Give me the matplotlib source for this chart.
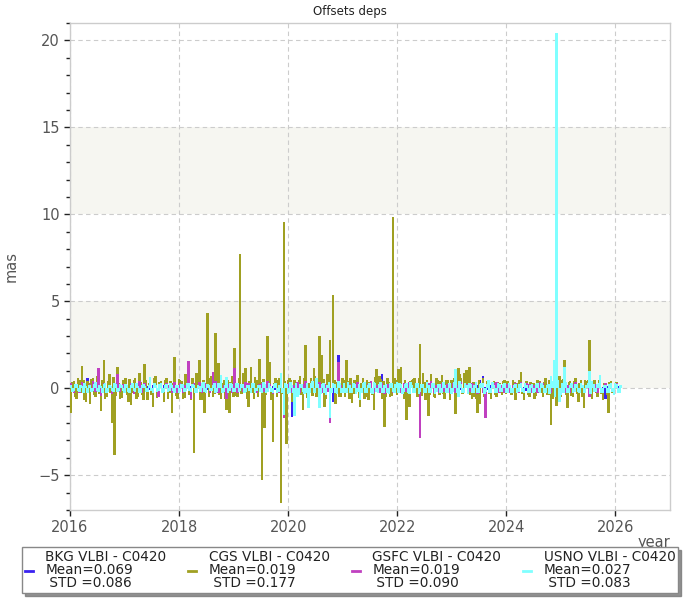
import numpy as np
import matplotlib
matplotlib.use("Agg")
import matplotlib.pyplot as plt
from matplotlib.lines import Line2D

# ---- data ---------------------------------------------------------------
years = [2016, 2017, 2018, 2019, 2020, 2021, 2022, 2023, 2024, 2025, 2026]
# session epochs within each year (fraction of year): main sessions ...
in_year = [0.02, 0.07, 0.12, 0.17, 0.22, 0.27, 0.32, 0.37, 0.42, 0.47,
           0.52, 0.57, 0.62, 0.67, 0.72, 0.77, 0.82, 0.87, 0.92, 0.97]
# ... and intensive/extra sessions analysed by CGS and USNO
in_year_b = [0.045, 0.095, 0.145, 0.195, 0.245, 0.295, 0.345, 0.395, 0.445, 0.495,
             0.545, 0.595, 0.645, 0.695, 0.745, 0.795, 0.845, 0.895, 0.945, 0.995]
last_year_sessions = 2

series_names = ["BKG VLBI - C0420", "CGS VLBI - C0420",
                "GSFC VLBI - C0420", "USNO VLBI - C0420"]
series_mean = ["0.069", "0.019", "0.019", "0.027"]
series_std = ["0.086", "0.177", "0.090", "0.083"]
series_colors = ["#3a22f0", "#a0a022", "#c040c0", "#80ffff"]

bkg = [
    0.15, -0.1, 0.2, 0.1, -0.15, 0.2, 0.6, -0.1, 0.15, 0.1, -0.2, 0.15, 0.1, -0.15, 0.2, 0.1, -0.1, 0.15, 0.2, -0.1,
    0.1, 0.15, -0.1, 0.2, 0.1, -0.15, 0.2, 0.1, 0.15, -0.1, 0.2, 0.1, -0.1, 0.15, 0.2, 0.1, -0.15, 0.1, 0.2, 0.15,
    0.15, 0.1, -0.1, 0.2, 0.15, 0.1, -0.15, 0.2, 0.1, 0.15, -0.1, 0.2, 0.1, 0.15, -0.1, 0.2, 0.15, 0.1, -0.15, 0.1,
    0.2, 0.1, 0.15, -0.1, 0.2, 0.1, 0.15, -0.1, 0.2, 0.15, 0.1, -0.15, 0.2, 0.1, 0.15, -0.1, 0.2, 0.1, -0.2, 0.15,
    0.1, -1.65, 0.15, 0.2, 0.1, -0.1, 0.15, 0.2, 0.1, -0.15, 0.2, 0.1, 0.15, -0.1, 0.2, 0.15, -0.8, 0.1, 1.9, 0.15,
    0.2, 0.1, -0.1, 0.15, 0.2, 0.1, 0.15, -0.1, 0.2, 0.1, 0.15, -0.15, 0.2, 0.1, 0.8, 0.15, 0.1, -0.1, 0.2, 0.15,
    0.1, 0.2, 0.15, -0.1, 0.2, 0.1, 0.15, -0.15, 0.2, 0.1, 0.15, -0.1, 0.8, 0.15, 0.1, -0.1, 0.2, 0.15, 0.1, -0.15,
    0.15, 0.2, 0.1, -0.1, 0.15, 0.2, 0.1, 0.15, -0.15, 0.2, 0.5, 0.7, 0.1, -0.1, 0.2, 0.15, 0.1, 0.2, -0.15, 0.1,
    0.2, 0.1, 0.15, -0.1, 0.2, 0.15, 0.1, -0.15, 0.2, 0.1, 0.15, -0.1, 0.2, 0.15, 0.1, -0.1, 0.2, 0.3, 0.15, -0.1,
    0.15, 0.2, 0.1, -0.15, 0.2, 0.1, 0.15, -0.1, 0.2, 0.15, 0.1, 0.2, -0.1, 0.15, 0.3, 0.1, -0.6, 0.15, 0.2, -0.1,
    0.2, 0.15,
]

cgs = [
    -1.45, 0.4, -0.6, 0.5, 1.3, -0.7, 0.4, -0.9, 0.6, -0.5, 0.9, -1.3, 1.65, -0.5, 0.8, -2.0, -3.85, 1.2, -0.6, 0.5,
    0.6, -0.8, -0.95, 0.5, -0.6, 0.9, -0.4, 1.4, -0.7, 0.5, -1.05, 0.7, -0.5, 0.4, -0.8, 0.6, -0.3, -1.45, 1.8, -0.6,
    0.5, -0.6, 0.8, 0.4, -0.7, -3.7, 0.9, 1.6, -0.7, -1.4, 4.3, 0.6, -0.5, 3.15, 1.45, -0.6, 0.5, -1.25, -1.45, 0.7,
    2.3, -0.5, 7.7, 0.85, 1.15, -1.1, 1.2, -0.6, 0.5, 1.7, -5.3, -2.3, 3.0, 1.5, -3.1, 0.6, 0.5, -6.6, 9.55, -3.2,
    0.6, -0.8, 0.5, -0.4, 0.7, -1.25, 2.5, -0.7, 0.6, 1.15, -0.5, 3.0, 1.9, -1.1, 0.8, 2.75, 5.35, -0.9, 0.6, -0.5,
    0.5, 1.65, -0.6, -0.85, 0.5, 0.75, -1.1, 0.6, -0.5, -0.7, 0.4, -1.25, 1.1, 0.7, -0.6, -2.2, 0.6, -0.5, 9.85, 0.5,
    1.1, 1.25, -0.6, -1.8, -1.1, 0.5, 0.6, -0.5, 2.55, 0.85, -0.7, -1.6, 0.8, -0.5, 0.6, -0.4, 0.75, -0.6, 0.5, -0.7,
    0.5, -1.5, 1.15, 0.6, 0.85, 1.05, 1.25, -0.6, -0.5, -1.45, -0.9, 0.6, -1.6, 0.5, -0.6, 0.4, -0.5, 0.3, -0.4, 0.5,
    0.4, -0.3, 0.5, -0.7, 0.3, 0.95, -0.65, 0.4, -0.5, 0.3, -0.6, 0.5, 0.4, -0.5, 0.6, -0.4, -2.1, 0.5, -1.0, 0.7,
    0.5, 1.65, -1.15, 0.4, -0.5, 0.6, -0.8, 0.5, -1.15, 0.4, 2.8, -0.6, 0.5, -0.5, 0.4, -0.65, 0.3, -1.45, 0.4, -0.3,
    0.35, -0.2,
]

cgs_b = [
    0.35, -0.5, 0.6, -0.3, 0.45, -0.8, 0.3, 0.55, -0.4, 0.7, -0.35, 0.5, -0.6, 0.4, -0.3, 0.65, -0.45, 0.3, -0.55, 0.4,
    -0.4, 0.55, -0.3, 0.6, -0.5, 0.35, -0.65, 0.45, 0.3, -0.4, 0.6, -0.55, 0.35, -0.3, 0.5, -0.6, 0.4, 0.3, -0.45, 0.55,
    0.4, -0.55, 0.35, -0.4, 0.6, -0.3, 0.5, -0.65, 0.45, 0.3, -0.5, 0.7, -0.35, 0.55, -0.4, 0.3, -0.6, 0.45, 0.35, -0.5,
    -0.45, 0.6, -0.35, 0.5, -0.6, 0.4, -0.3, 0.65, -0.5, 0.35, 0.55, -0.4, 0.45, -0.7, 0.3, -0.5, 0.6, -0.35, 0.4, 0.5,
    0.45, -0.6, 0.35, 0.5, -0.4, 0.6, -0.55, 0.3, -0.45, 0.7, 0.4, -0.35, 0.55, -0.6, 0.45, -0.3, 0.5, 0.35, -0.5, 0.6,
    -0.5, 0.4, 0.6, -0.35, 0.45, -0.55, 0.3, -0.6, 0.5, 0.35, -0.4, 0.65, -0.3, 0.55, 0.4, -0.5, 0.35, -0.45, 0.6, -0.4,
    0.5, -0.35, 0.45, -0.6, 0.4, 0.55, -0.3, 0.6, -0.45, 0.35, 0.5, -0.4, 0.3, -0.55, 0.45, 0.4, -0.35, 0.5, -0.3, 0.45,
    0.6, -0.45, 0.8, -0.35, 0.7, 0.5, -0.4, 0.35, -0.6, 0.45, 0.3, -0.5, 0.4, -0.35, 0.3, -0.4, 0.35, -0.3, 0.4, -0.35,
    0.3, -0.4, 0.35, -0.3, 0.45, -0.35, 0.3, -0.4, 0.35, 0.3, -0.45, 0.4, -0.3, 0.35, -0.4, 0.5, -0.6, 0.45, 0.6, -0.5,
    0.55, -0.4, 0.35, -0.45, 0.4, -0.35, 0.3, -0.5, 0.45, 0.5, -0.4, 0.35, -0.3, 0.45, -0.35, 0.3, -0.4, 0.35, -0.3, 0.25,
    -0.25, 0.2,
]

gsfc = [
    0.3, -0.3, 0.2, -0.25, 0.35, 0.2, -0.3, 0.25, 0.4, -0.2, 1.15, -0.45, 0.3, -0.25, 0.2, -0.35, 0.3, 0.8, -0.2, 0.25,
    0.25, -0.2, 0.3, -0.35, 0.2, 0.4, -0.25, 0.3, -0.2, 0.35, -0.3, 0.2, -0.5, 0.25, -0.2, 0.3, 0.2, -0.3, 0.35, -0.25,
    0.3, -0.25, 0.2, 1.55, -0.6, 0.3, -0.2, 0.35, -0.25, 0.3, 0.2, -0.3, 0.95, 0.4, -0.25, 0.3, 0.2, -0.6, 0.25, -0.3,
    1.15, -0.3, 0.25, -0.2, 0.35, 0.3, -0.25, 0.2, -0.3, 0.25, 0.3, -0.2, 0.4, 0.25, -0.35, 0.2, -0.25, 0.3, -1.7, 0.2,
    0.3, -0.25, 0.2, 0.35, -0.3, 0.25, 0.4, -0.2, 0.3, -0.25, 0.2, 0.35, -0.3, 0.25, -0.2, -2.0, 0.3, -0.25, 1.5, 0.2,
    0.3, -0.2, 0.25, -0.3, 0.2, 0.35, -0.25, 0.3, -0.2, 0.25, 0.4, -0.3, 0.2, -0.25, 0.3, -0.35, 0.25, 0.2, -0.3, 0.25,
    0.25, -0.3, 0.3, -0.2, 0.35, 0.2, -0.25, 0.3, -2.85, 0.25, -0.2, 0.3, 0.4, -0.3, 0.2, -0.25, 0.3, -0.2, 0.25, -0.3,
    0.3, -0.25, 0.2, 0.35, -0.3, 0.25, -0.2, 0.3, 0.25, -0.35, 0.2, -0.3, -1.7, 0.25, -0.2, 0.3, 0.35, -0.25, 0.2, -0.3,
    0.25, -0.3, 0.2, 0.3, -0.25, 0.35, -0.2, 0.3, 0.25, -0.3, 0.2, -0.25, 0.35, 0.3, -0.2, 0.25, -0.3, 0.2, 0.95, -0.25,
    0.3, -0.25, 0.2, -0.3, 0.25, 0.35, -0.2, 0.3, -0.25, 0.2, -0.5, 0.3, 0.25, -0.3, 0.2, -0.25, 0.3, -0.2, 0.25, -0.3,
    0.3, -0.2,
]

usno = [
    0.2, -0.15, 0.25, -0.2, 0.15, 0.3, -0.25, 0.2, -0.15, 0.35, -0.2, 0.15, 0.25, -0.3, 0.2, -0.15, 0.3, -0.2, 0.25, -0.15,
    0.25, -0.2, 0.2, -0.15, 0.3, -0.25, 0.2, 0.15, -0.2, 0.65, -0.25, 0.2, -0.15, 0.3, -0.2, 0.25, -0.15, 0.2, -0.3, 0.2,
    -0.2, 0.25, -0.15, 0.3, -0.2, 0.2, -0.25, 0.15, 0.3, -0.2, 0.25, -0.15, 0.2, -0.25, 0.3, 0.75, -0.2, 0.65, -0.15, 0.25,
    -0.2, 0.3, -0.15, 0.25, -0.2, 0.2, -0.25, 0.3, -0.15, 0.2, -0.3, 0.25, -0.2, 0.15, -0.25, 0.3, -0.2, 0.9, -1.55, 0.25,
    -0.3, 0.2, -1.6, -0.5, 0.25, -0.2, -0.3, -1.15, 0.3, -0.25, 0.6, -1.15, 0.25, -0.3, 0.2, -1.7, 0.3, -0.25, 0.4, -0.3,
    0.3, -0.25, 0.2, -0.3, 0.25, -0.2, -0.7, 0.3, -0.25, 0.2, -0.3, 0.35, -0.2, 0.25, -0.3, 0.2, -0.25, 0.3, -0.2, 0.25,
    -0.3, 0.25, -0.2, 0.3, -0.35, 0.2, -0.25, 0.3, -0.2, 0.25, -0.3, 0.2, -0.25, 0.3, -0.2, 0.25, -0.3, 0.2, -0.25, 0.3,
    -0.2, 1.1, -0.5, 0.25, -0.3, 0.2, 0.3, -0.25, 0.2, -0.3, 0.25, 0.3, -0.2, 0.45, -0.25, 0.2, -0.3, 0.25, -0.2, 0.3,
    -0.25, 0.2, -0.3, 0.25, -0.2, 0.3, -0.25, 0.2, -0.3, 0.25, -0.2, 0.3, -0.25, 0.2, -0.3, 0.25, 0.7, 1.6, 20.45, -0.8,
    0.3, 1.2, -0.25, 0.2, -0.3, 0.25, -0.2, 0.3, -0.25, 0.2, 1.0, 0.4, -0.2, 0.25, 0.75, -0.3, 0.2, -0.25, 0.3, -0.4,
    0.25, -0.3,
]

usno_b = [
    -0.2, 0.25, -0.15, 0.2, -0.25, 0.15, 0.2, -0.2, 0.25, -0.15, 0.2, -0.25, 0.3, -0.2, 0.15, -0.2, 0.25, -0.15, 0.2, -0.25,
    0.2, -0.25, 0.3, -0.2, 0.15, -0.3, 0.25, -0.2, 0.2, -0.15, 0.3, -0.2, 0.25, -0.25, 0.2, -0.2, 0.3, -0.15, 0.2, -0.25,
    0.25, -0.2, 0.3, -0.15, 0.25, -0.3, 0.2, -0.2, 0.35, -0.25, 0.2, -0.15, 0.3, -0.2, 0.25, -0.3, 0.2, -0.25, 0.3, -0.2,
    0.3, -0.2, 0.25, -0.3, 0.2, -0.15, 0.3, -0.25, 0.2, -0.2, 0.35, -0.25, 0.3, -0.2, 0.25, -0.3, 0.2, -0.25, 0.3, -0.35,
    0.35, -0.3, 0.3, -0.4, 0.25, -0.35, 0.3, -0.25, 0.4, -0.3, 0.25, -0.35, 0.3, -0.4, 0.35, -0.3, 0.25, -0.35, 0.3, -0.25,
    -0.3, 0.35, -0.25, 0.3, -0.35, 0.25, -0.3, 0.35, -0.25, 0.3, -0.35, 0.3, -0.25, 0.35, -0.3, 0.25, -0.35, 0.3, -0.25, 0.35,
    0.3, -0.35, 0.25, -0.3, 0.35, -0.25, 0.3, -0.35, 0.25, -0.3, 0.35, -0.25, 0.3, -0.35, 0.25, -0.3, 0.35, -0.25, 0.3, -0.35,
    0.35, -0.3, 0.4, -0.25, 0.3, -0.35, 0.25, -0.3, 0.35, -0.25, 0.3, -0.35, 0.25, -0.3, 0.35, -0.25, 0.3, -0.2, 0.25, -0.3,
    0.3, -0.25, 0.2, -0.3, 0.25, -0.2, 0.3, -0.25, 0.2, -0.3, 0.25, -0.2, 0.3, -0.25, 0.2, -0.35, 0.4, -0.5, 0.5, -0.4,
    -0.3, 0.35, -0.25, 0.3, -0.2, 0.25, -0.3, 0.2, -0.25, 0.3, -0.35, 0.25, -0.2, 0.3, -0.25, 0.2, -0.3, 0.25, -0.2, 0.3,
    -0.25, 0.2,
]

# session epochs (decimal year)
epochs = [y + f for y in years[:-1] for f in in_year] + \
         [years[-1] + f for f in in_year[:last_year_sessions]]
epochs_b = [y + f for y in years[:-1] for f in in_year_b] + \
           [years[-1] + f for f in in_year_b[:last_year_sessions]]

# ---- figure -------------------------------------------------------------
fig = plt.figure(figsize=(7, 6), dpi=100)
ax = fig.add_axes([70 / 700, 1 - 510 / 600, 600 / 700, 487 / 600])

ax.set_xlim(2016, 2027)
ax.set_ylim(-7, 21)

# alternating plot bands
ax.axhspan(0, 5, color="#f6f6f1", zorder=0, lw=0)
ax.axhspan(10, 15, color="#f6f6f1", zorder=0, lw=0)

bar_w = 0.048
layers = [(epochs, bkg, series_colors[0]),
          (epochs, cgs, series_colors[1]), (epochs_b, cgs_b, series_colors[1]),
          (epochs, gsfc, series_colors[2]),
          (epochs, usno, series_colors[3]), (epochs_b, usno_b, series_colors[3])]
for xs, vals, col in layers:
    ax.bar(xs, vals, width=bar_w, color=col, linewidth=0, zorder=3)

ax.set_xticks([2016, 2018, 2020, 2022, 2024, 2026])
ax.set_yticks([-5, 0, 5, 10, 15, 20])
ax.set_yticks(np.arange(-7, 22, 1), minor=True)
ax.grid(True, which="major", color="#cccccc", linestyle=(0, (4, 3)), linewidth=0.8, zorder=1)
ax.set_axisbelow(True)
for s in ax.spines.values():
    s.set_color("#cccccc")
    s.set_linewidth(1)
ax.tick_params(axis="both", which="major", direction="out", length=4, width=1,
               color="#222222", labelcolor="#555555", labelsize=10.5)
ax.tick_params(axis="y", which="minor", direction="out", length=3, width=1, color="#222222")
ax.tick_params(axis="x", which="minor", length=0)

ax.set_ylabel("mas", color="#555555", fontsize=10.5, labelpad=14)
ax.set_xlabel("year", color="#555555", fontsize=10.5, loc="right", labelpad=0)

fig.text(0.5, 1 - 11 / 600, "Offsets deps", ha="center", va="center", fontsize=8.5, color="#222222")

handles = [Line2D([0], [0], color=c, lw=2) for c in series_colors]
labels = [f"{n}\nMean={m}\n STD ={s}" for n, m, s in zip(series_names, series_mean, series_std)]
leg = fig.legend(handles, labels, loc="lower left", ncol=4, mode="expand",
                 bbox_to_anchor=(22 / 700, 7 / 600, 656 / 700, 48 / 600),
                 fontsize=9.8, handlelength=0.6, handletextpad=0.9, columnspacing=0.8,
                 frameon=True, fancybox=False, shadow={"color": "#777777", "alpha": 0.8},
                 borderpad=0.2, labelspacing=0.1, borderaxespad=0)
leg.get_frame().set_edgecolor("#888888")
leg.get_frame().set_linewidth(1)
leg.set_zorder(10)
for t in leg.get_texts():
    t.set_color("#222222")
    t.set_linespacing(0.92)

fig.savefig("out.png", dpi=100)
